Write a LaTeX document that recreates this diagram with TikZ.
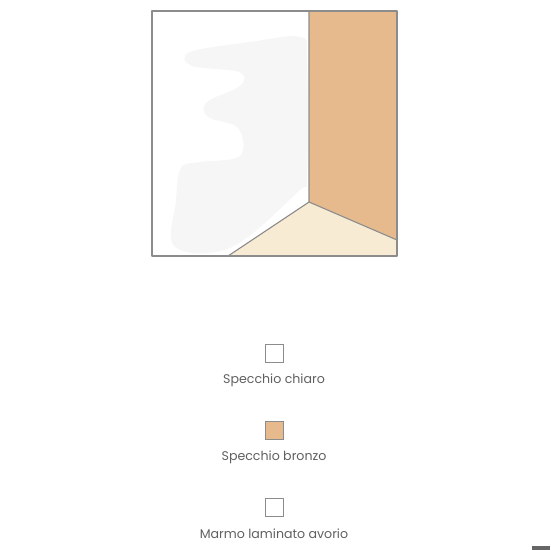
\documentclass[tikz,border=0pt]{standalone}
\usepackage{fontspec}
\setmainfont{Poppins}
\definecolor{bronze}{HTML}{E6BA8C}
\definecolor{ivory}{HTML}{F7EBD4}
\definecolor{edge}{HTML}{8C8C8C}
\definecolor{blob}{HTML}{F6F6F6}
\definecolor{txt}{HTML}{606060}
\begin{document}
\begin{tikzpicture}[x=1pt,y=-1pt,
  panel/.style={draw=edge,line width=1.1pt,line join=round},
  swatch/.style={draw=edge,line width=0.9pt,minimum size=18pt,inner sep=0pt},
  label/.style={font=\fontsize{12.6}{15}\selectfont,text=txt,inner sep=0pt}]
\useasboundingbox (0,0) rectangle (550,550);
% blob
\fill[blob] plot[smooth cycle,tension=0.6] coordinates{(190,52) (250,42) (300,37) (307,60) (307,180) (300,190) (232,247) (175,247) (176,200) (181,168) (200,162) (240,156) (238,128) (208,117) (207,102) (240,86) (239,72) (192,66)};
% panels
\coordinate (tl) at (152,11);
\coordinate (tm) at (309,11);
\coordinate (tr) at (397,11);
\coordinate (c) at (309,202);
\coordinate (br) at (397,256);
\coordinate (rr) at (397,240);
\coordinate (bl) at (152,256);
\coordinate (bm) at (228,256);
\fill[bronze] (tm) -- (tr) -- (rr) -- (c) -- cycle;
\fill[ivory] (c) -- (rr) -- (br) -- (bm) -- cycle;
\draw[panel] (tl) rectangle (br);
\draw[panel] (tm) -- (c) -- (rr);
\draw[panel] (c) -- (bm);
% legend
\node[swatch,fill=white] (s1) at (274,353) {};
\node[label] (l1) at (274,380) {Specchio chiaro};
\node[swatch,fill=bronze] (s2) at (274,430) {};
\node[label] (l2) at (274,457) {Specchio bronzo};
\node[swatch,fill=white] (s3) at (274,507) {};
\node[label] (l3) at (274,534) {Marmo laminato avorio};
\fill[gray!80!black] (532,546) rectangle (550,550);
\end{tikzpicture}
\end{document}
